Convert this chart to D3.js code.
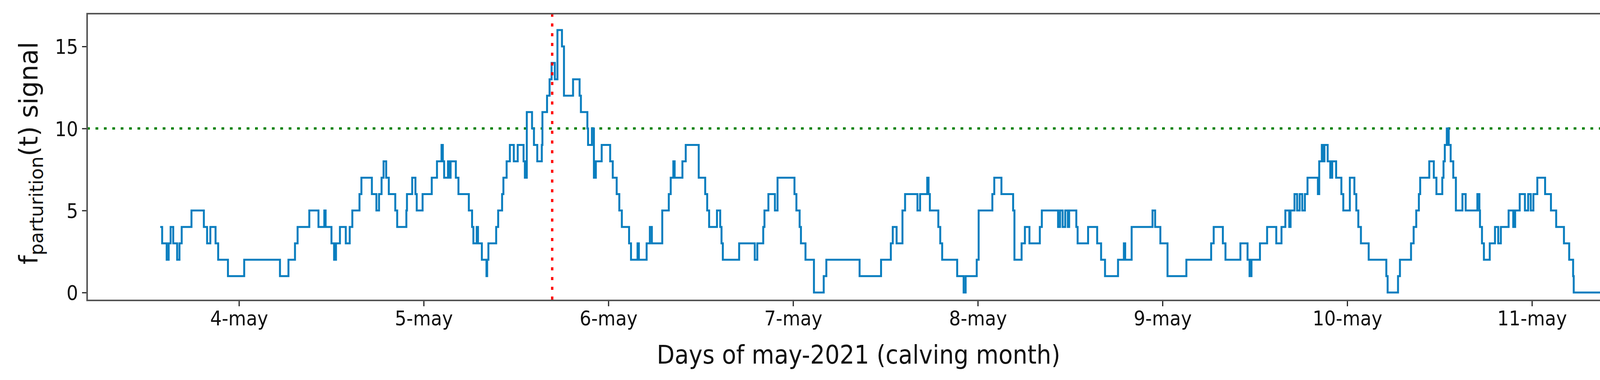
<!DOCTYPE html>
<html>
<head>
<meta charset="utf-8">
<script src="https://cdn.jsdelivr.net/npm/d3@7"></script>
<style>
  body { margin: 0; background: #fff; }
</style>
</head>
<body>
<div id="chart"></div>
<script>
// Step signal: hours since 4-may 00:00 where the value changes, and the new value
const changeHours = [
  -10.23, -9.98, -9.39, -9.13, -8.88, -8.54, -8.03, -7.73, -7.44, -6.17,
  -4.56, -4.14, -3.72, -3.04, -2.70, -1.43, 0.68, 5.33, 6.43, 7.28,
  7.62, 9.14, 10.33, 11.09, 11.26, 12.02, 12.36, 12.61, 13.12,
  13.88, 14.39, 14.73, 15.66, 15.91, 17.27, 17.86, 18.20, 18.53, 18.79,
  19.13, 19.47, 20.31, 20.56, 21.75, 21.83, 22.51, 22.93, 23.10, 23.86,
  25.05, 25.73, 26.32, 26.49, 26.66, 27.16, 27.33, 27.50, 28.18, 28.52,
  29.87, 30.29, 30.46, 30.89, 31.06, 31.56, 32.16, 32.25, 32.41, 33.42,
  33.68, 34.19, 34.36, 34.78, 35.20, 35.71, 36.22, 36.98,
  37.15, 37.40, 38.08, 38.33, 38.76, 39.35, 39.43, 40.03, 40.36, 40.62,
  41.04, 41.38, 41.97, 42.23, 43.41, 44.26, 44.43, 45.27, 45.36, 45.86,
  46.12, 46.37, 47.13, 48.23, 48.57, 49.08, 49.42, 49.75, 50.69, 50.94,
  51.79, 51.96, 52.97, 53.39, 53.65, 55.00, 55.85, 56.10, 56.44, 56.61,
  57.62, 58.05, 59.74, 60.58, 60.84, 61.09,
  62.11, 62.53, 62.70, 62.87, 64.99, 67.02, 67.35, 68.12, 68.28, 68.79,
  69.64, 69.98, 72.18, 72.43, 72.85, 73.02, 73.61, 74.71, 75.98, 76.32,
  80.64, 83.43, 84.70, 84.95,
  85.45, 86.21, 86.55, 88.16, 88.50, 89.43, 89.60, 89.77, 90.87, 91.12,
  91.37, 93.32, 94.16, 94.42, 95.86, 96.11, 97.89, 98.14, 99.07, 100.59,
  100.76, 101.69, 102.12, 102.71, 104.06, 104.32, 106.43, 106.69, 107.02, 107.36,
  107.70, 107.87, 108.80, 108.97,
  110.33, 111.51, 112.02, 112.53, 114.22, 114.98, 115.15, 115.99, 118.70, 119.04,
  119.72, 120.65, 123.10, 126.32, 126.65, 127.84, 128.18, 130.12, 131.05, 131.31,
  131.56, 132.66,
  133.59, 134.78, 135.46, 135.96, 136.47, 136.64, 137.15, 137.49, 137.82, 138.16,
  138.50, 138.84, 140.19, 140.36, 140.70, 140.87, 141.04, 141.46, 141.80, 142.05,
  142.56, 143.24, 143.49, 144.34, 144.93, 145.18, 145.44, 145.78, 146.79, 149.08,
  149.25, 150.60, 150.85, 152.29, 152.63, 152.97, 153.31, 153.48, 154.66, 155.25,
  155.59, 156.35,
  156.51, 156.68, 156.94, 157.19, 157.44, 157.78, 158.12, 158.97, 159.39, 160.91,
  161.17, 161.25, 161.51, 161.76, 162.52, 163.20, 163.62, 163.96, 164.97, 165.57,
  165.82, 166.41, 167.09, 167.51, 167.85, 168.19, 168.70, 169.71, 170.47, 171.15,
  172.16, 172.84, 173.35, 173.43, 180.96
];
const changeValues = [
  4, 3, 2, 3, 4, 3, 2, 3, 4, 5,
  4, 3, 4, 3, 2, 1, 2, 1, 2, 3,
  4, 5, 4, 5, 4, 3, 2, 3, 4,
  3, 4, 5, 6, 7, 6, 5, 6, 7, 8,
  7, 6, 5, 4, 5, 6, 7, 6, 5, 6,
  7, 8, 9, 8, 7, 8, 7, 8, 7, 6,
  5, 4, 3, 4, 3, 2, 1, 2, 3, 4,
  5, 6, 7, 8, 9, 8, 9, 8,
  7, 11, 10, 9, 8, 9, 11, 12, 13, 14,
  13, 16, 15, 12, 13, 12, 11, 10, 9, 10,
  7, 8, 9, 8, 7, 6, 5, 4, 3, 2,
  3, 2, 3, 4, 3, 5, 6, 7, 8, 7,
  8, 9, 7, 6, 5, 4,
  5, 4, 3, 2, 3, 2, 3, 4, 5, 6,
  5, 7, 6, 5, 4, 3, 2, 0, 1, 2,
  1, 2, 3, 4,
  3, 5, 6, 5, 6, 7, 6, 5, 4, 3,
  2, 1, 0, 1, 2, 5, 6, 7, 6, 5,
  2, 3, 4, 3, 4, 5, 4, 5, 4, 5,
  4, 5, 4, 3,
  4, 3, 2, 1, 2, 3, 2, 4, 5, 4,
  3, 1, 2, 3, 4, 3, 2, 3, 2, 1,
  2, 3,
  4, 3, 4, 5, 4, 5, 6, 5, 6, 5,
  6, 7, 6, 8, 9, 8, 9, 8, 7, 8,
  7, 6, 5, 7, 6, 5, 4, 3, 2, 1,
  0, 1, 2, 3, 4, 5, 6, 7, 8, 7,
  6, 7,
  8, 9, 10, 9, 8, 7, 5, 6, 5, 6,
  5, 4, 3, 2, 3, 4, 3, 4, 5, 4,
  5, 6, 5, 6, 5, 6, 7, 6, 5, 4,
  3, 2, 1, 0, 0
];

const dayTicks = [4, 5, 6, 7, 8, 9, 10, 11];
const dayLabels = ['4-may', '5-may', '6-may', '7-may', '8-may', '9-may', '10-may', '11-may'];
const yTicks = [0, 5, 10, 15];
const thresholdValue = 10;
const calvingHour = 40.7;   // red marker, 5-may ~16:40

const width = 4395, height = 974;
const margin = { top: 35, right: 26, bottom: 204, left: 223 };
const innerW = width - margin.left - margin.right;
const innerH = height - margin.top - margin.bottom;

const svg = d3.select('#chart').append('svg')
  .attr('width', width)
  .attr('height', height);

const g = svg.append('g')
  .attr('transform', `translate(${margin.left},${margin.top})`);

// x in hours since 4-may 00:00
const x = d3.scaleLinear().domain([-19.73, 190.7]).range([0, innerW]);
const y = d3.scaleLinear().domain([-0.48, 17.0]).range([innerH, 0]);

const points = changeHours.map((h, i) => [h, changeValues[i]]);

// threshold line
g.append('line')
  .attr('x1', 0).attr('x2', innerW)
  .attr('y1', y(thresholdValue)).attr('y2', y(thresholdValue))
  .attr('stroke', '#008000')
  .attr('stroke-width', 6)
  .attr('stroke-dasharray', '7 14.5');

// signal
g.append('path')
  .datum(points)
  .attr('fill', 'none')
  .attr('stroke', '#0a7ebf')
  .attr('stroke-width', 5)
  .attr('d', d3.line().x(d => x(d[0])).y(d => y(d[1])).curve(d3.curveStepAfter));

// calving marker
g.append('line')
  .attr('x1', x(calvingHour)).attr('x2', x(calvingHour))
  .attr('y1', 0).attr('y2', innerH)
  .attr('stroke', '#ff0000')
  .attr('stroke-width', 6)
  .attr('stroke-dasharray', '8 17');

// axes
const xAxis = d3.axisBottom(x)
  .tickValues(dayTicks.map(d => (d - 4) * 24))
  .tickFormat((d, i) => dayLabels[i])
  .tickSize(15).tickPadding(12);
const yAxis = d3.axisLeft(y)
  .tickValues(yTicks)
  .tickSize(13).tickPadding(10);

const gx = g.append('g').attr('transform', `translate(0,${innerH})`).call(xAxis);
const gy = g.append('g').call(yAxis);

[gx, gy].forEach(a => {
  a.select('.domain').remove();
  a.selectAll('line').attr('stroke', '#222').attr('stroke-width', 3);
  a.selectAll('text')
    .attr('fill', '#111')
    .style('font-family', '"DejaVu Sans Condensed", "DejaVu Sans", sans-serif')
    .style('font-size', '52px');
});
gx.selectAll('text').attr('dy', '0.71em');
gy.selectAll('text').attr('dy', '0.36em');

// frame
g.append('rect')
  .attr('width', innerW).attr('height', innerH)
  .attr('fill', 'none')
  .attr('stroke', '#555')
  .attr('stroke-width', 4);

// axis labels
svg.append('text')
  .attr('x', margin.left + x(80.5))
  .attr('y', 932)
  .attr('text-anchor', 'middle')
  .attr('fill', '#111')
  .style('font-family', '"DejaVu Sans Condensed", "DejaVu Sans", sans-serif')
  .style('font-size', '66px')
  .text('Days of may-2021 (calving month)');

const yl = svg.append('text')
  .attr('transform', `translate(96,${margin.top + innerH / 2 - 10}) rotate(-90)`)
  .attr('text-anchor', 'middle')
  .attr('fill', '#111')
  .style('font-family', '"DejaVu Sans", sans-serif')
  .style('font-size', '66px');
yl.append('tspan').text('f');
yl.append('tspan').attr('dy', 14).style('font-size', '48px').text('parturition');
yl.append('tspan').attr('dy', -14).text('(t) signal');
</script>
</body>
</html>
